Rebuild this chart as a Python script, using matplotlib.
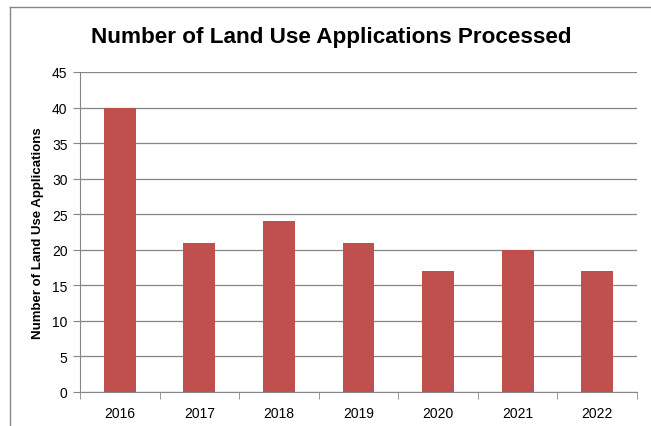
import matplotlib
matplotlib.use('Agg')
import matplotlib.pyplot as plt
from matplotlib.lines import Line2D

years = ['2016', '2017', '2018', '2019', '2020', '2021', '2022']
applications = [40, 21, 24, 21, 17, 20, 17]

plt.rcParams['font.family'] = ['Liberation Sans', 'DejaVu Sans']

fig = plt.figure(figsize=(6.51, 4.27), dpi=100)
W, H = 651, 427
ax = fig.add_axes([80 / W, 1 - 393 / H, (637 - 80) / W, (393 - 73) / H])

x = range(len(years))
ax.bar(x, applications, width=0.4, color='#C0504D', zorder=3)

ax.set_xlim(-0.5, len(years) - 0.5)
ax.set_ylim(0, 45)
ax.set_yticks(range(0, 46, 5))
ax.set_xticks(list(x))
ax.set_xticklabels(years)
ax.set_xticks([i - 0.5 for i in range(len(years) + 1)], minor=True)
ax.tick_params(axis='x', which='major', length=0, pad=10, labelsize=10)
ax.tick_params(axis='x', which='minor', length=5, color='#868686')
ax.tick_params(axis='y', length=5, color='#868686', labelsize=10, pad=4)
ax.grid(axis='y', color='#868686', linewidth=0.9, zorder=0)

for side in ['top', 'right']:
    ax.spines[side].set_visible(False)
for side in ['left', 'bottom']:
    ax.spines[side].set_color('#868686')

ax.set_ylabel('Number of Land Use Applications', fontsize=9.5, fontweight='bold', labelpad=6)

fig.text(331 / W, 1 - 37 / H, 'Number of Land Use Applications Processed',
         ha='center', va='center', fontsize=16.2, fontweight='bold')

# outer chart border (only top and left edges visible)
y_top = 1 - 7.5 / H
x_left = 9.5 / W
fig.add_artist(Line2D([x_left, 1], [y_top, y_top], transform=fig.transFigure,
                      color='#868686', linewidth=1))
fig.add_artist(Line2D([x_left, x_left], [0, y_top], transform=fig.transFigure,
                      color='#868686', linewidth=1))

fig.savefig('out.png', dpi=100)
